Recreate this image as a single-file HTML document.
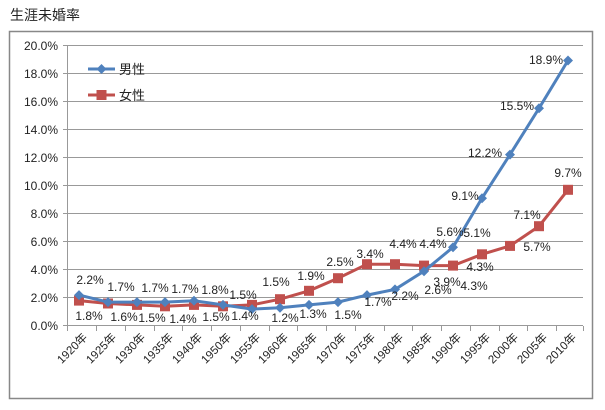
<!DOCTYPE html>
<html><head><meta charset="utf-8"><style>
body{margin:0;background:#fff;}
svg{display:block;font-family:"Liberation Sans","Noto Sans CJK JP",sans-serif;}
</style></head><body>
<svg width="605" height="410" viewBox="0 0 605 410">
<text x="10" y="20" font-size="14" fill="#222">生涯未婚率</text>
<rect x="9.5" y="31.5" width="583" height="367" fill="#fff" stroke="#888" stroke-width="1.5"/>
<g stroke="#999" stroke-width="1">
<line x1="63" y1="45.5" x2="583" y2="45.5"/><line x1="63" y1="73.5" x2="583" y2="73.5"/>
<line x1="63" y1="101.5" x2="583" y2="101.5"/><line x1="63" y1="129.5" x2="583" y2="129.5"/>
<line x1="63" y1="157.5" x2="583" y2="157.5"/><line x1="63" y1="185.5" x2="583" y2="185.5"/>
<line x1="63" y1="213.5" x2="583" y2="213.5"/><line x1="63" y1="241.5" x2="583" y2="241.5"/>
<line x1="63" y1="269.5" x2="583" y2="269.5"/><line x1="63" y1="297.5" x2="583" y2="297.5"/>
<line x1="63" y1="325.5" x2="583" y2="325.5"/>
<line x1="67.5" y1="45" x2="67.5" y2="326"/>
</g>
<g stroke="#999"><path d="M67.5 326v5M96.5 326v5M125.5 326v5M154.5 326v5M182.5 326v5M211.5 326v5M240.5 326v5M269.5 326v5M297.5 326v5M326.5 326v5M355.5 326v5M384.5 326v5M412.5 326v5M441.5 326v5M470.5 326v5M499.5 326v5M527.5 326v5M556.5 326v5M583.5 326v5"/></g>
<g font-size="12" fill="#222" text-anchor="end">
<text x="58" y="50">20.0%</text><text x="58" y="78">18.0%</text><text x="58" y="106">16.0%</text>
<text x="58" y="134">14.0%</text><text x="58" y="162">12.0%</text><text x="58" y="190">10.0%</text>
<text x="58" y="218">8.0%</text><text x="58" y="246">6.0%</text><text x="58" y="274">4.0%</text>
<text x="58" y="302">2.0%</text><text x="58" y="330">0.0%</text>
</g>
<g font-size="11.5" fill="#222" text-anchor="end">
<text transform="translate(88,338) rotate(-45)">1920年</text>
<text transform="translate(117,338) rotate(-45)">1925年</text>
<text transform="translate(146,338) rotate(-45)">1930年</text>
<text transform="translate(174,338) rotate(-45)">1935年</text>
<text transform="translate(203,338) rotate(-45)">1940年</text>
<text transform="translate(232,338) rotate(-45)">1950年</text>
<text transform="translate(261,338) rotate(-45)">1955年</text>
<text transform="translate(289,338) rotate(-45)">1960年</text>
<text transform="translate(318,338) rotate(-45)">1965年</text>
<text transform="translate(347,338) rotate(-45)">1970年</text>
<text transform="translate(376,338) rotate(-45)">1975年</text>
<text transform="translate(404,338) rotate(-45)">1980年</text>
<text transform="translate(433,338) rotate(-45)">1985年</text>
<text transform="translate(462,338) rotate(-45)">1990年</text>
<text transform="translate(491,338) rotate(-45)">1995年</text>
<text transform="translate(519,338) rotate(-45)">2000年</text>
<text transform="translate(548,338) rotate(-45)">2005年</text>
<text transform="translate(577,338) rotate(-45)">2010年</text>
</g>
<!-- female -->
<polyline fill="none" stroke="#c0504d" stroke-width="3" points="79,300.6 108,303.5 137,304.9 165,306.3 194,304.9 223,306.3 252,304.9 280,299.2 309,290.8 338,278.2 367,264.2 395,264.2 424,265.6 453,265.6 482,254.3 510,245.9 539,226.2 568,189.8"/>
<g fill="#c0504d">
<rect x="74" y="295.6" width="10" height="10"/><rect x="103" y="298.5" width="10" height="10"/><rect x="132" y="299.9" width="10" height="10"/><rect x="160" y="301.3" width="10" height="10"/><rect x="189" y="299.9" width="10" height="10"/><rect x="218" y="301.3" width="10" height="10"/><rect x="247" y="299.9" width="10" height="10"/><rect x="275" y="294.2" width="10" height="10"/><rect x="304" y="285.8" width="10" height="10"/><rect x="333" y="273.2" width="10" height="10"/><rect x="362" y="259.2" width="10" height="10"/><rect x="390" y="259.2" width="10" height="10"/><rect x="419" y="260.6" width="10" height="10"/><rect x="448" y="260.6" width="10" height="10"/><rect x="477" y="249.3" width="10" height="10"/><rect x="505" y="240.9" width="10" height="10"/><rect x="534" y="221.2" width="10" height="10"/><rect x="563" y="184.8" width="10" height="10"/>
</g>
<!-- male -->
<polyline fill="none" stroke="#4f81bd" stroke-width="3" points="79,295.1 108,302.1 137,302.1 165,302.1 194,300.7 223,304.9 252,309.1 280,307.7 309,304.9 338,302.1 367,295.1 395,289.4 424,271.2 453,247.3 482,198.2 510,154.6 539,108.3 568,60.5"/>
<g fill="#4f81bd">
<path d="M79 290.1l5 5-5 5-5-5z M108 297.1l5 5-5 5-5-5z M137 297.1l5 5-5 5-5-5z M165 297.1l5 5-5 5-5-5z M194 295.7l5 5-5 5-5-5z M223 299.9l5 5-5 5-5-5z M252 304.1l5 5-5 5-5-5z M280 302.7l5 5-5 5-5-5z M309 299.9l5 5-5 5-5-5z M338 297.1l5 5-5 5-5-5z M367 290.1l5 5-5 5-5-5z M395 284.4l5 5-5 5-5-5z M424 266.2l5 5-5 5-5-5z M453 242.3l5 5-5 5-5-5z M482 193.2l5 5-5 5-5-5z M510 149.6l5 5-5 5-5-5z M539 103.3l5 5-5 5-5-5z M568 55.5l5 5-5 5-5-5z"/>
</g>
<!-- legend -->
<line x1="88" y1="69" x2="115" y2="69" stroke="#4f81bd" stroke-width="3"/>
<path d="M101.5 64l5 5-5 5-5-5z" fill="#4f81bd"/>
<text x="119" y="74" font-size="13" fill="#222">男性</text>
<line x1="88" y1="95" x2="115" y2="95" stroke="#c0504d" stroke-width="3"/>
<rect x="96.5" y="90" width="10" height="10" fill="#c0504d"/>
<text x="119" y="100" font-size="13" fill="#222">女性</text>
<g font-size="12" fill="#222" text-anchor="middle">
<text x="90" y="284">2.2%</text><text x="121" y="291">1.7%</text><text x="155" y="292">1.7%</text><text x="185" y="293">1.7%</text><text x="215" y="294">1.8%</text><text x="243" y="299">1.5%</text>
<text x="276" y="286">1.5%</text><text x="311" y="280">1.9%</text><text x="340" y="266">2.5%</text><text x="370" y="258">3.4%</text><text x="403" y="248">4.4%</text><text x="433" y="248">4.4%</text>
<text x="450" y="236">5.6%</text><text x="477" y="237">5.1%</text><text x="465" y="200">9.1%</text><text x="485" y="157">12.2%</text><text x="517" y="110">15.5%</text><text x="546" y="64">18.9%</text>
<text x="568" y="177">9.7%</text><text x="527" y="219">7.1%</text><text x="537" y="251">5.7%</text><text x="480" y="271">4.3%</text>
<text x="89" y="320">1.8%</text><text x="124" y="321">1.6%</text><text x="152" y="322">1.5%</text><text x="183" y="323">1.4%</text><text x="216" y="321">1.5%</text><text x="245" y="320">1.4%</text>
<text x="285" y="322">1.2%</text><text x="313" y="318">1.3%</text><text x="348" y="319">1.5%</text><text x="378" y="306">1.7%</text><text x="405" y="300">2.2%</text><text x="438" y="294">2.6%</text><text x="447" y="286">3.9%</text><text x="474" y="290">4.3%</text>
</g>
</svg>
</body></html>
